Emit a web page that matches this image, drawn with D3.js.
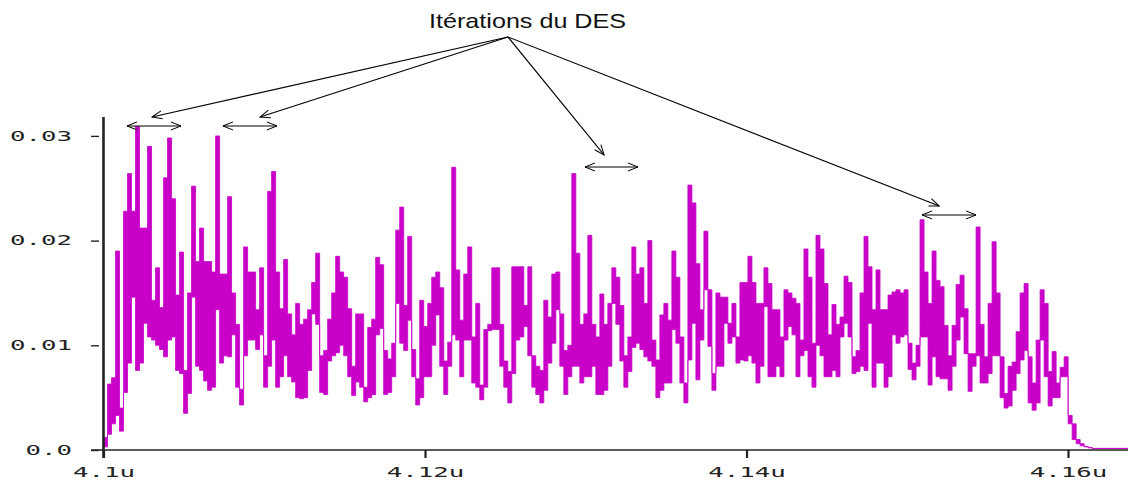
<!DOCTYPE html>
<html><head><meta charset="utf-8">
<script src="https://cdn.jsdelivr.net/npm/d3@7"></script>
<style>html,body{margin:0;padding:0;background:#fff}svg{display:block}</style>
</head><body><svg id="c" width="1128" height="481"></svg>
<script>
// time base (u) and sample step of the recorded trace
const t0 = 4.1, dt = 0.000249;
// per-step minimum / maximum of the signal (units of 0.001)
const lo = [
0.3,1.5,2.5,3.3,1.8,5.5,8.3,14.6,7.6,8.3,
12.1,10.8,10.5,10.0,9.6,8.9,10.5,10.8,7.6,7.3,
3.5,5.4,14.6,8.0,7.6,6.6,5.7,6.0,13.4,8.3,
9.0,8.9,11.0,6.0,4.3,9.0,10.5,10.5,9.6,11.0,
6.0,8.0,10.5,6.0,7.0,9.0,7.0,6.5,5.0,4.9,
5.0,7.6,13.0,12.0,5.5,5.3,8.5,9.0,9.3,10.0,
9.0,7.0,5.2,6.5,6.0,4.6,5.0,5.3,11.0,11.6,
5.3,5.5,7.0,14.0,10.2,9.5,12.4,7.0,4.3,5.0,
7.0,7.0,10.0,12.9,8.0,5.3,8.0,11.0,10.5,7.0,
10.5,10.5,6.4,6.0,4.8,6.0,11.4,11.5,11.5,8.0,
6.0,4.5,7.3,10.5,10.8,11.8,9.0,6.0,5.3,4.5,
5.7,8.3,10.2,13.4,8.0,5.3,7.0,8.0,8.0,6.4,
7.0,7.0,8.0,5.3,5.3,5.7,8.0,14.0,12.0,8.5,
6.0,7.5,9.8,10.2,9.6,8.9,8.5,8.0,5.0,5.7,
6.4,6.4,11.5,10.2,6.4,4.5,8.6,12.1,6.7,10.5,
15.3,9.9,5.7,8.0,8.0,12.1,10.2,10.8,8.3,8.6,
8.5,9.0,8.3,6.4,8.0,13.7,7.0,7.0,8.0,7.0,
10.5,11.8,11.0,7.0,9.0,9.5,7.0,6.0,10.0,9.0,
7.0,7.0,7.6,7.0,10.8,12.1,10.8,7.3,7.5,8.0,
7.6,12.1,6.0,8.3,8.3,6.0,7.0,11.0,10.2,10.8,
11.0,7.7,6.7,8.0,10.8,10.8,6.2,8.9,7.0,6.8,
6.8,5.7,8.0,10.5,12.7,9.2,5.6,8.0,9.0,6.4,
6.4,7.3,9.0,9.0,5.0,4.0,4.2,5.7,7.3,8.6,
9.5,4.5,3.8,4.5,10.5,7.0,4.2,5.0,5.0,7.0,
7.0,2.5,1.0,0.6,0.4,0.3,0.2,0.15,0.15,0.15,
0.15,0.15,0.15,0.15,0.15,0.15
];
const hi = [
1.2,6.3,6.9,19.0,4.0,22.8,26.4,22.8,30.9,21.2,
21.2,29.0,14.3,17.4,13.6,26.0,29.8,24.0,14.8,18.9,
7.6,15.0,25.2,18.0,21.2,18.0,18.0,17.0,30.0,16.8,
16.8,24.2,15.0,12.0,5.8,19.4,17.0,17.0,13.4,17.4,
9.0,24.7,26.6,17.0,13.5,18.2,13.0,11.0,14.0,12.0,
12.5,13.4,16.0,18.8,9.0,9.5,12.5,15.0,18.5,17.0,
16.5,13.5,8.0,13.0,13.0,6.0,11.7,12.5,18.4,17.7,
9.5,8.7,10.2,21.0,23.2,13.8,20.4,9.6,6.8,14.3,
11.8,14.0,16.5,17.0,15.5,8.5,10.3,27.0,17.2,12.4,
16.8,19.4,10.8,14.0,6.2,11.5,12.0,17.4,17.4,12.0,
8.5,7.5,17.5,17.5,17.5,13.8,17.5,9.0,8.0,7.6,
14.3,12.7,16.8,17.0,13.0,9.5,10.0,26.4,18.8,12.0,
13.0,20.5,12.0,10.8,14.9,12.0,14.0,17.4,16.5,13.8,
9.0,10.8,19.4,16.8,17.4,14.0,20.0,10.5,8.6,12.9,
14.0,12.4,19.0,16.5,10.8,6.4,25.3,23.6,17.8,13.4,
20.9,15.3,7.3,15.0,14.6,14.6,12.1,14.0,10.8,16.0,
16.0,18.5,16.0,14.0,14.0,17.4,15.9,13.4,13.4,10.8,
15.3,15.0,14.5,14.0,10.5,19.2,16.5,10.2,20.5,19.2,
15.9,11.0,13.9,12.0,12.7,16.6,16.0,8.9,9.5,15.0,
20.4,17.5,13.4,17.2,13.4,13.4,14.8,15.1,15.3,15.0,
15.3,10.2,8.3,10.0,22.0,17.0,14.0,19.0,16.2,15.6,
11.9,9.0,11.9,15.8,16.7,13.5,9.2,9.2,21.3,12.0,
8.9,14.0,19.9,15.0,8.9,5.4,8.0,8.4,11.3,15.0,
15.9,8.9,6.4,10.5,15.3,14.0,7.5,9.4,6.4,7.9,
8.9,3.3,2.5,1.0,0.6,0.35,0.25,0.15,0.15,0.15,
0.15,0.15,0.15,0.15,0.15,0.15
];
const xTicks = [4.10, 4.12, 4.14, 4.16];
const xTickLabels = ["4.1u", "4.12u", "4.14u", "4.16u"];
const yTicks = [0, 10, 20, 30];
const yTickLabels = ["0.0", "0.01", "0.02", "0.03"];
const titleText = "Itérations du DES";
const titlePos = [4.12638, 40.26];
const hub = [4.12516, 39.45];
// DES iteration spans: [start, end, level]
const spans = [[4.10146, 4.10482, 30.95], [4.10743, 4.11079, 30.95], [4.12995, 4.13325, 27.03], [4.15092, 4.15428, 22.45]];
// arrow tips from the title hub
const tips = [[4.10302, 31.8], [4.10974, 31.8], [4.13114, 28.18], [4.15199, 23.3]];

const svg = d3.select("#c");
const W = 1128, H = 481;
const x = d3.scaleLinear().domain([4.1, 4.16]).range([103.5, 1068]);
const y = d3.scaleLinear().domain([0, 30]).range([450, 135.9]);
const col = "#c800c8";

// axes lines under the trace
const axisCol = "#222";
svg.append("line").attr("x1", 91).attr("x2", W).attr("y1", y(0)).attr("y2", y(0))
  .attr("stroke", axisCol).attr("stroke-width", 1.5);

// signal: band between per-step min and max
const pts = lo.map((l, i) => ({t: t0 + i * dt, lo: l, hi: hi[i]}));
pts.push({t: t0 + lo.length * dt, lo: lo[lo.length - 1], hi: hi[hi.length - 1]});
const area = d3.area().curve(d3.curveStepAfter)
  .x(d => x(d.t)).y0(d => y(d.lo)).y1(d => y(d.hi));
svg.append("path").datum(pts).attr("d", area)
  .attr("fill", col).attr("stroke", col).attr("stroke-width", 0.8)
  .attr("stroke-linejoin", "miter");

svg.append("line").attr("x1", x(4.1)).attr("x2", x(4.1)).attr("y1", 117).attr("y2", 458)
  .attr("stroke", axisCol).attr("stroke-width", 2.6);

const gy = svg.append("g").attr("transform", "translate(99,0)")
  .call(d3.axisLeft(y).tickValues(yTicks).tickFormat((d, i) => yTickLabels[i])
    .tickSizeInner(8).tickSizeOuter(0).tickPadding(19));
gy.select(".domain").remove();
gy.selectAll(".tick line").attr("stroke", axisCol).attr("stroke-width", 1.4);
gy.selectAll(".tick text").attr("font-family", "DejaVu Sans Mono").attr("font-size", 14)
  .attr("fill", axisCol).attr("dy", "0.3em")
  .attr("textLength", (d, i) => 15.5 * yTickLabels[i].length).attr("lengthAdjust", "spacingAndGlyphs");

const gx = svg.append("g").attr("transform", `translate(0,${y(0)})`)
  .call(d3.axisBottom(x).tickValues(xTicks).tickFormat((d, i) => xTickLabels[i])
    .tickSizeInner(8).tickSizeOuter(0).tickPadding(9));
gx.select(".domain").remove();
gx.selectAll(".tick line").attr("stroke", axisCol).attr("stroke-width", 2.2);
gx.selectAll(".tick text").attr("font-family", "DejaVu Sans Mono").attr("font-size", 14)
  .attr("fill", axisCol)
  .attr("textLength", (d, i) => 15.5 * xTickLabels[i].length).attr("lengthAdjust", "spacingAndGlyphs");
svg.selectAll(".tick text").style("font-family", "DejaVu Sans Mono");

// annotations
const defs = svg.append("defs");
defs.append("marker").attr("id", "ah").attr("viewBox", "-11 -5 12 10")
  .attr("refX", 0).attr("refY", 0).attr("markerWidth", 12).attr("markerHeight", 10)
  .attr("markerUnits", "userSpaceOnUse").attr("orient", "auto-start-reverse")
  .append("path").attr("d", "M-10,-4L0,0L-10,4").attr("fill", "none")
  .attr("stroke", "#000").attr("stroke-width", 1);

svg.append("g").selectAll("line").data(spans).join("line")
  .attr("x1", d => x(d[0])).attr("x2", d => x(d[1]))
  .attr("y1", d => y(d[2])).attr("y2", d => y(d[2]))
  .attr("stroke", "#000").attr("stroke-width", 1.1)
  .attr("marker-start", "url(#ah)").attr("marker-end", "url(#ah)");

svg.append("g").selectAll("line").data(tips).join("line")
  .attr("x1", x(hub[0])).attr("y1", y(hub[1]))
  .attr("x2", d => x(d[0])).attr("y2", d => y(d[1]))
  .attr("stroke", "#000").attr("stroke-width", 1.1)
  .attr("marker-end", "url(#ah)");

svg.append("text").attr("x", x(titlePos[0])).attr("y", y(titlePos[1]))
  .attr("text-anchor", "middle").attr("font-family", "Liberation Sans, Arial, sans-serif")
  .attr("font-size", 21).attr("fill", "#111")
  .attr("textLength", 197).attr("lengthAdjust", "spacingAndGlyphs")
  .text(titleText);
</script></body></html>
